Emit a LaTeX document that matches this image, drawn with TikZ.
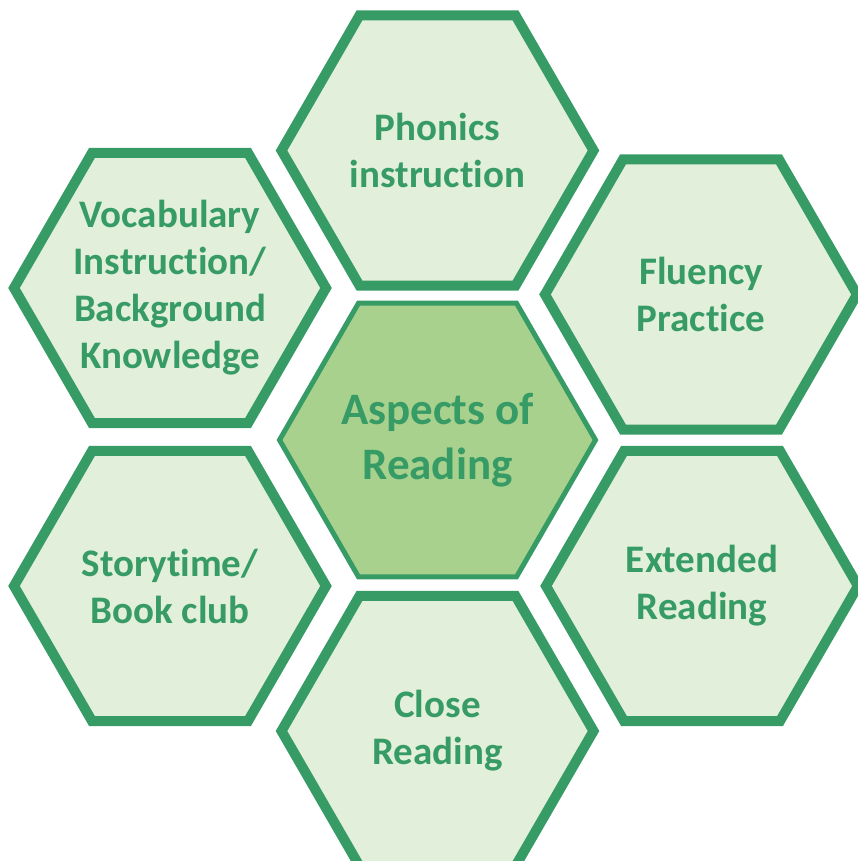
\documentclass[tikz,border=0pt]{standalone}
\usepackage{fontspec}
\setmainfont{Carlito}[Ligatures={NoCommon}]
\usetikzlibrary{shapes.geometric}

\definecolor{hexline}{HTML}{379B66}
\definecolor{hexfill}{HTML}{E2EFDA}
\definecolor{hubfill}{HTML}{A9D18E}

\begin{document}
\begin{tikzpicture}[x=1pt, y=-1pt,
% Hexagon style
		cell/.style={regular polygon
							    , regular polygon sides=6
							    , minimum size=312pt
							    , inner sep=0pt
							    , fill=hexfill
							    , draw=hexline
							    , line width=10pt
							    , line join=miter},
		hub/.style={cell
							    , minimum size=316pt
							    , fill=hubfill
							    , line width=5pt},
% Text style
		celltext/.style={align=center
							    , text=hexline
							    , font=\bfseries\fontsize{39}{47}\selectfont},
		hubtext/.style={celltext
							    , font=\bfseries\fontsize{45}{55}\selectfont}
	]
	\useasboundingbox (0,0) rectangle (858,861);
%% Draw the cells
	\begin{scope}
		\node [cell] (phon)  at (437.5,150.5) {};
		\node [cell] (vocab) at (170,288)     {};
		\node [cell] (flu)   at (701,294.5)   {};
		\node [cell] (story) at (170,586)     {};
		\node [cell] (ext)   at (702,586)     {};
		\node [cell] (close) at (437.5,731)   {};
		\node [hub]  (read)  at (437.5,440)   {};
	\end{scope}
%% Write the texts
	\node [celltext] (phont)  at (phon)  {Phonics\\instruction};
	\node [celltext] (vocabt) at (vocab) {Vocabulary\\Instruction/\\Background\\Knowledge};
	\node [celltext] (flut)   at (flu)   {Fluency\\Practice};
	\node [celltext] (storyt) at (story) {Storytime/\\Book club};
	\node [celltext] (extt)   at (ext)   {Extended\\Reading};
	\node [celltext] (closet) at (close) {Close\\Reading};
	\node [hubtext]  (readt)  at (read)  {Aspects of\\Reading};
\end{tikzpicture}
\end{document}
